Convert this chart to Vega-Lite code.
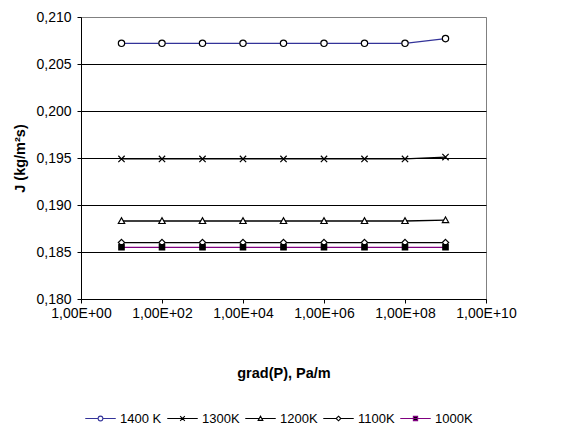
{
  "$schema": "https://vega.github.io/schema/vega-lite/v6.json",
  "autosize": {"type": "none"},
  "padding": {"left": 81, "top": 17, "right": 88, "bottom": 126},
  "width": 405,
  "height": 282,
  "config": {
    "font": "Liberation Sans",
    "view": {"stroke": "#808080", "strokeWidth": 1},
    "axis": {"labelFont": "Liberation Sans", "titleFont": "Liberation Sans", "labelFontSize": 14, "titleFontSize": 14.5, "labelColor": "black", "titleColor": "black", "domainColor": "black", "tickColor": "black"}
  },
  "data": {"values": [
    {"x": 1e1, "series": "1400 K", "J": 0.2072}, {"x": 1e2, "series": "1400 K", "J": 0.2072}, {"x": 1e3, "series": "1400 K", "J": 0.2072}, {"x": 1e4, "series": "1400 K", "J": 0.2072}, {"x": 1e5, "series": "1400 K", "J": 0.2072}, {"x": 1e6, "series": "1400 K", "J": 0.2072}, {"x": 1e7, "series": "1400 K", "J": 0.2072}, {"x": 1e8, "series": "1400 K", "J": 0.2072}, {"x": 1e9, "series": "1400 K", "J": 0.2077},
    {"x": 1e1, "series": "1300K", "J": 0.1949}, {"x": 1e2, "series": "1300K", "J": 0.1949}, {"x": 1e3, "series": "1300K", "J": 0.1949}, {"x": 1e4, "series": "1300K", "J": 0.1949}, {"x": 1e5, "series": "1300K", "J": 0.1949}, {"x": 1e6, "series": "1300K", "J": 0.1949}, {"x": 1e7, "series": "1300K", "J": 0.1949}, {"x": 1e8, "series": "1300K", "J": 0.1949}, {"x": 1e9, "series": "1300K", "J": 0.1951},
    {"x": 1e1, "series": "1200K", "J": 0.1883}, {"x": 1e2, "series": "1200K", "J": 0.1883}, {"x": 1e3, "series": "1200K", "J": 0.1883}, {"x": 1e4, "series": "1200K", "J": 0.1883}, {"x": 1e5, "series": "1200K", "J": 0.1883}, {"x": 1e6, "series": "1200K", "J": 0.1883}, {"x": 1e7, "series": "1200K", "J": 0.1883}, {"x": 1e8, "series": "1200K", "J": 0.1883}, {"x": 1e9, "series": "1200K", "J": 0.1884},
    {"x": 1e1, "series": "1100K", "J": 0.1860}, {"x": 1e2, "series": "1100K", "J": 0.1860}, {"x": 1e3, "series": "1100K", "J": 0.1860}, {"x": 1e4, "series": "1100K", "J": 0.1860}, {"x": 1e5, "series": "1100K", "J": 0.1860}, {"x": 1e6, "series": "1100K", "J": 0.1860}, {"x": 1e7, "series": "1100K", "J": 0.1860}, {"x": 1e8, "series": "1100K", "J": 0.1860}, {"x": 1e9, "series": "1100K", "J": 0.1860},
    {"x": 1e1, "series": "1000K", "J": 0.1855}, {"x": 1e2, "series": "1000K", "J": 0.1855}, {"x": 1e3, "series": "1000K", "J": 0.1855}, {"x": 1e4, "series": "1000K", "J": 0.1855}, {"x": 1e5, "series": "1000K", "J": 0.1855}, {"x": 1e6, "series": "1000K", "J": 0.1855}, {"x": 1e7, "series": "1000K", "J": 0.1855}, {"x": 1e8, "series": "1000K", "J": 0.1855}, {"x": 1e9, "series": "1000K", "J": 0.1855}
  ]},
  "encoding": {
    "x": {"field": "x", "type": "quantitative",
      "scale": {"type": "log", "domain": [1, 10000000000], "nice": false},
      "axis": {"values": [1, 100, 10000, 1000000, 100000000, 10000000000], "grid": false, "tickSize": 4, "labelPadding": 3, "labelFlush": false, "labelOverlap": false,
        "labelExpr": "'1,00E+' + (round(log(datum.value)/LN10) < 10 ? '0' : '') + round(log(datum.value)/LN10)",
        "title": "grad(P), Pa/m", "titleFontWeight": "bold", "titlePadding": 46}},
    "y": {"field": "J", "type": "quantitative",
      "scale": {"domain": [0.18, 0.21], "nice": false, "zero": false},
      "axis": {"values": [0.18, 0.185, 0.19, 0.195, 0.2, 0.205, 0.21], "grid": true, "gridColor": {"condition": {"test": "datum.value > 0.2099", "value": "#808080"}, "value": "black"}, "gridOpacity": 1, "tickSize": 4, "labelPadding": 6, "labelFlush": false,
        "labelExpr": "replace(format(datum.value, '.3f'), '.', ',')",
        "title": "J (kg/m²s)", "titleFontWeight": "bold", "titlePadding": 8}}
  },
  "layer": [
    {
      "mark": {"type": "line", "strokeWidth": 1.3},
      "encoding": {
        "stroke": {"field": "series", "type": "nominal",
          "scale": {"domain": ["1400 K", "1300K", "1200K", "1100K", "1000K"], "range": ["#333399", "black", "black", "black", "#800080"]},
          "legend": null}
      }
    },
    {
      "mark": {"type": "point", "filled": false, "stroke": "black", "strokeWidth": 1.2, "size": 40, "opacity": 1},
      "encoding": {
        "shape": {"field": "series", "type": "nominal",
          "scale": {"domain": ["1400 K", "1300K", "1200K", "1100K", "1000K"], "range": [
            "M-1,0A1,1 0 1,0 1,0A1,1 0 1,0 -1,0Z",
            "M-1,-1L1,1M-1,1L1,-1",
            "M-1,0.8L1,0.8L0,-1Z",
            "M0,-1L1,0L0,1L-1,0Z",
            "M-0.85,-0.85H0.85V0.85H-0.85Z"]},
          "legend": null},
        "fill": {"field": "series", "type": "nominal",
          "scale": {"domain": ["1400 K", "1300K", "1200K", "1100K", "1000K"], "range": ["white", "white", "white", "white", "black"]},
          "legend": null}
      }
    },
    {
      "transform": [{"filter": "false"}],
      "mark": {"type": "point", "filled": false, "strokeWidth": 1.1, "opacity": 1},
      "encoding": {
        "shape": {"field": "series", "type": "nominal",
          "scale": {"domain": ["1400 K", "1300K", "1200K", "1100K", "1000K"], "range": [
            "M-6.5,0H-1M1,0H6.5M-1,0A1,1 0 1,0 1,0A1,1 0 1,0 -1,0Z",
            "M-6.5,0H6.5M-1,-1L1,1M-1,1L1,-1",
            "M-6.5,0H-0.56M0.56,0H6.5M-1,0.8L1,0.8L0,-1Z",
            "M-6.5,0H-1M1,0H6.5M0,-1L1,0L0,1L-1,0Z",
            "M-6.5,0H6.5M-0.9,-0.9H0.9V0.9H-0.9Z"]},
          "legend": {"orient": "bottom", "direction": "horizontal", "title": null, "offset": 32, "gridAlign": "none", "symbolSize": 22, "symbolStrokeWidth": 1.1, "labelFontSize": 13, "labelFont": "Liberation Sans", "labelColor": "black", "labelOffset": 13, "columnPadding": 1, "symbolOffset": 13}},
        "stroke": {"field": "series", "type": "nominal",
          "scale": {"domain": ["1400 K", "1300K", "1200K", "1100K", "1000K"], "range": ["#333399", "black", "black", "black", "#800080"]}},
        "fill": {"field": "series", "type": "nominal",
          "scale": {"domain": ["1400 K", "1300K", "1200K", "1100K", "1000K"], "range": ["white", "white", "white", "white", "black"]}}
      }
    }
  ],
  "resolve": {"scale": {"shape": "independent", "fill": "independent", "stroke": "independent"}}
}
